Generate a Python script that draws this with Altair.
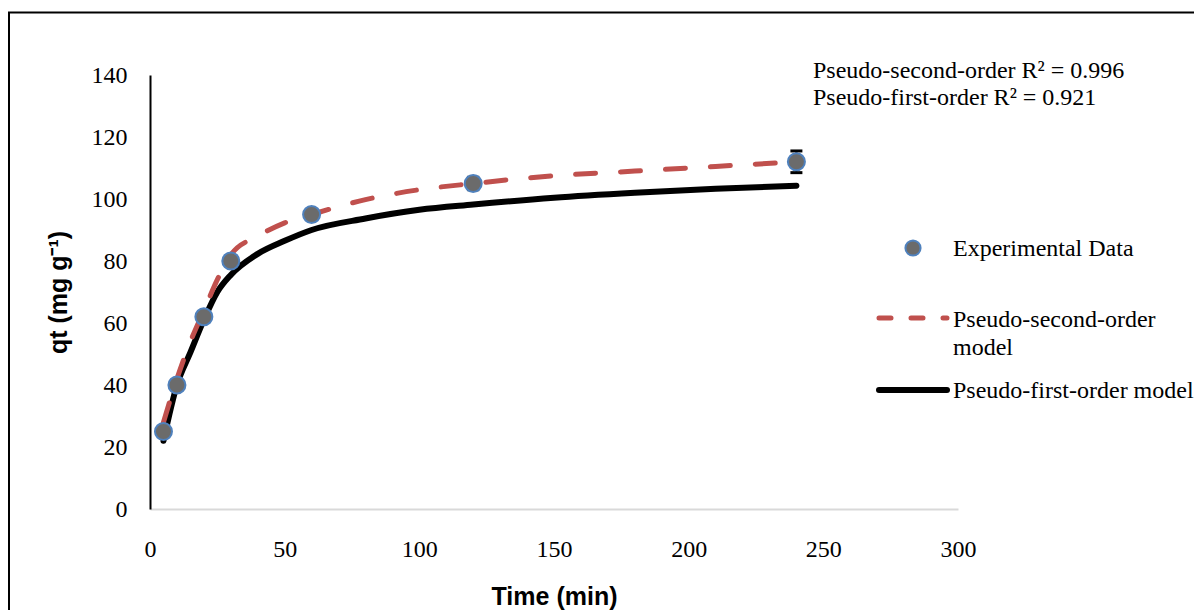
import altair as alt
import pandas as pd

# Experimental data
time_exp = [5, 10, 20, 30, 60, 120, 240]
qt_exp = [25, 40, 62, 80, 95, 105, 112]
qt_err = [0.5, 0.5, 0.5, 0.5, 1.5, 2.0, 3.5]

# Pseudo-second-order model curve
pso_t = [5, 10, 15, 20, 25, 30, 40, 50, 60, 80, 100, 120, 150, 180, 210, 240]
pso_q = [28, 42, 54, 64, 74, 82, 88, 92.3, 95, 99.8, 103, 105, 107.5, 109, 110.5, 112]

# Pseudo-first-order model curve
pfo_t = [5, 10, 15, 20, 25, 30, 40, 50, 60, 80, 100, 120, 150, 180, 210, 240]
pfo_q = [22, 40, 50.5, 61, 70, 75.5, 82.3, 86.5, 90, 93.7, 96.5, 98.2, 100.4, 102, 103.3, 104.3]

x_ticks = [0, 50, 100, 150, 200, 250, 300]
y_ticks = [0, 20, 40, 60, 80, 100, 120, 140]

r2_lines = ["Pseudo-second-order R\u00b2 = 0.996", "Pseudo-first-order R\u00b2 = 0.921"]
legend_labels = ["Experimental Data", "Pseudo-second-order", "model", "Pseudo-first-order model"]

SERIF = "Liberation Serif"
SANS = "Liberation Sans"

exp_df = pd.DataFrame({
    "t": time_exp,
    "q": qt_exp,
    "lo": [q - e for q, e in zip(qt_exp, qt_err)],
    "hi": [q + e for q, e in zip(qt_exp, qt_err)],
})
pso_df = pd.DataFrame({"t": pso_t, "q": pso_q})
pfo_df = pd.DataFrame({"t": pfo_t, "q": pfo_q})

xscale = alt.Scale(domain=[0, 300], nice=False, zero=True)
yscale = alt.Scale(domain=[0, 140], nice=False, zero=True)

x_axis = alt.Axis(
    values=x_ticks, grid=False, ticks=False, tickSize=0, labelFlush=False,
    domainColor="#d9d9d9", domainWidth=2,
    labelFont=SERIF, labelFontSize=24, labelColor="black", labelPadding=28,
    title="Time (min)", titleFont=SANS, titleFontWeight="bold", titleFontSize=25,
    titleColor="black", titleX=404, titleY=95, titleBaseline="alphabetic", titleAlign="center",
)
y_axis = alt.Axis(
    values=y_ticks, grid=False, ticks=False, tickSize=0, labelFlush=False,
    domainColor="black", domainWidth=2,
    labelFont=SERIF, labelFontSize=24, labelColor="black", labelPadding=23,
    title="qt (mg g\u207b\u00b9)", titleFont=SANS, titleFontWeight="bold", titleFontSize=25,
    titleColor="black", titleX=-84, titleY=217, titleAngle=-90,
    titleBaseline="alphabetic", titleAlign="center",
)


def X(field):
    return alt.X(field, type="quantitative", scale=xscale, axis=x_axis)


def Y(field):
    return alt.Y(field, type="quantitative", scale=yscale, axis=y_axis)


pfo_line = alt.Chart(pfo_df).mark_line(
    interpolate="monotone", color="black", strokeWidth=6, strokeCap="round"
).encode(x=X("t"), y=Y("q"))

pso_line = alt.Chart(pso_df).mark_line(
    interpolate="monotone", color="#c0504d", strokeWidth=5,
    strokeDash=[20, 25], strokeCap="round"
).encode(x=X("t"), y=Y("q"))

err_rule = alt.Chart(exp_df).mark_rule(color="black", strokeWidth=2).encode(
    x=X("t"), y=Y("lo"), y2="hi:Q",
)
cap_lo = alt.Chart(exp_df).mark_tick(orient="horizontal", color="black", size=12, thickness=3, opacity=1).encode(
    x=X("t"), y=Y("lo"),
)
cap_hi = alt.Chart(exp_df).mark_tick(orient="horizontal", color="black", size=12, thickness=3, opacity=1).encode(
    x=X("t"), y=Y("hi"),
)

points = alt.Chart(exp_df).mark_point(
    shape="circle", filled=True, size=290, fill="#6b6b6b", fillOpacity=1,
    stroke="#4f81bd", strokeWidth=2, opacity=1
).encode(x=X("t"), y=Y("q"))


def label(text, x, y):
    return alt.Chart(pd.DataFrame({"label": [text]})).mark_text(
        font=SERIF, fontSize=24, align="left", baseline="alphabetic", color="black"
    ).encode(x=alt.value(x), y=alt.value(y), text="label:N")


one = pd.DataFrame({"k": [0]})

r2_a = label(r2_lines[0], 663, 3)
r2_b = label(r2_lines[1], 663, 30)

leg_pt = alt.Chart(one).mark_point(
    shape="circle", filled=True, size=230, fill="#6b6b6b", fillOpacity=1,
    stroke="#4f81bd", strokeWidth=2, opacity=1
).encode(x=alt.value(763), y=alt.value(173))
leg_dash = alt.Chart(one).mark_rule(
    color="#c0504d", strokeWidth=5, strokeDash=[12, 20], strokeCap="round"
).encode(x=alt.value(729), x2=alt.value(797), y=alt.value(243))
leg_solid = alt.Chart(one).mark_rule(color="black", strokeWidth=6, strokeCap="round").encode(
    x=alt.value(729), x2=alt.value(797), y=alt.value(315)
)
leg_t1 = label(legend_labels[0], 803, 181)
leg_t2 = label(legend_labels[1], 803, 252)
leg_t3 = label(legend_labels[2], 803, 280)
leg_t4 = label(legend_labels[3], 803, 323)

border_left = alt.Chart(one).mark_rule(color="black", strokeWidth=2).encode(
    x=alt.value(-141), y=alt.value(-63), y2=alt.value(560)
)
border_top = alt.Chart(one).mark_rule(color="black", strokeWidth=2).encode(
    x=alt.value(-142), x2=alt.value(1080), y=alt.value(-62.5)
)

chart = alt.layer(
    pfo_line, pso_line, err_rule, cap_lo, cap_hi, points,
    r2_a, r2_b, leg_pt, leg_dash, leg_solid, leg_t1, leg_t2, leg_t3, leg_t4,
    border_left, border_top,
).properties(
    width=808, height=434,
    autosize=alt.AutoSizeParams(type="none"),
    padding={"left": 142, "top": 67, "right": 236, "bottom": 101},
    background="white",
).configure_view(strokeWidth=0)

chart.save("out.html", embed_options={"renderer": "svg", "actions": False})
